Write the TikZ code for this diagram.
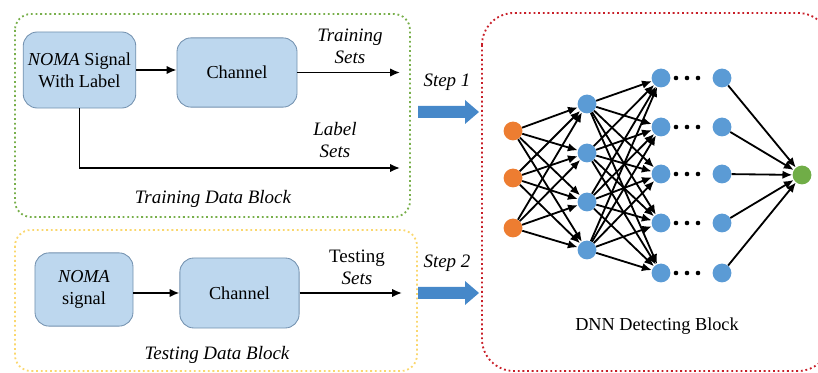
\documentclass[tikz,border=0pt]{standalone}
\usepackage{fontspec}
\setmainfont{Liberation Serif}
\usepackage{tikz}
\usetikzlibrary{arrows.meta}

\definecolor{boxfill}{RGB}{189,215,238}
\definecolor{boxline}{RGB}{115,145,175}
\definecolor{nodeblue}{RGB}{91,155,213}
\definecolor{inorange}{RGB}{237,125,49}
\definecolor{outgreen}{RGB}{112,173,71}
\definecolor{stepblue}{RGB}{70,136,201}
\definecolor{traingreen}{RGB}{120,175,75}
\definecolor{testyellow}{RGB}{250,215,110}
\definecolor{dnnred}{RGB}{200,30,40}

\tikzset{
	blk/.style={draw=boxline, fill=boxfill, rounded corners=0.35cm, align=center, line width=0.6pt, font=\fontsize{13}{15.5}\selectfont},
	lbl/.style={align=center, font=\fontsize{13.5}{15.6}\selectfont\itshape},
	neuron/.style={circle, minimum size=0.47cm, inner sep=0pt},
	link/.style={-{Latex[length=7pt,width=6pt]}, line width=1.3pt},
	frame/.style={dotted, line width=1.3pt}
}

\begin{document}
\begin{tikzpicture}[x=0.025cm, y=-0.025cm]
				\useasboundingbox (0,0) rectangle (818,373);
				\clip (0,0) rectangle (818,373);
				
				% Draw the three dotted blocks
				\draw[frame, traingreen, rounded corners=0.4cm] (15,14) rectangle (410,217);
				\draw[frame, testyellow, rounded corners=0.4cm] (15,230) rectangle (417,371);
				\draw[frame, dnnred, rounded corners=0.8cm] (482,13) rectangle (830,371);
				
				% Training data block
				\node[blk, minimum width=2.78cm, minimum height=1.9cm] (sig1) at (79.5,70) {\textit{NOMA} Signal\\With Label};
				\node[blk, minimum width=3cm, minimum height=1.73cm] (chan1) at (237,72.5) {Channel};
				\coordinate (trainout) at (400,72.5);
				\coordinate (labelout) at (400,168);
				\draw[link] (sig1.east) -- (sig1.east -| chan1.west);
				\draw[link] (chan1.east) -- (trainout);
				\draw[link] (sig1.south) |- (labelout);
				\node[lbl] (trainsets) at (350,46) {Training\\Sets};
				\node[lbl] (labelsets) at (335,140) {Label\\Sets};
				\node[lbl] (traintitle) at (213,199) {Training Data Block};
				
				% Testing data block
				\node[blk, minimum width=2.45cm, minimum height=1.83cm] (sig2) at (84,289.5) {\textit{NOMA}\\signal};
				\node[blk, minimum width=2.98cm, minimum height=1.75cm] (chan2) at (239.5,293) {Channel};
				\coordinate (testout) at (402,293);
				\draw[link] (sig2.east |- chan2.west) -- (chan2.west);
				\draw[link] (chan2.east) -- (testout);
				\node[lbl] (testsets) at (357,267) {\upshape Testing\\Sets};
				\node[lbl] (testtitle) at (217,355) {Testing Data Block};
				
				% Step arrows
				\node[lbl] (step1) at (447,82) {Step 1};
				\node[lbl] (step2) at (447,263) {Step 2};
				\foreach \y in {112,293}
					\fill[stepblue] (418,\y-6) -- (465,\y-6) -- (465,\y-12) -- (479,\y) -- (465,\y+12) -- (465,\y+6) -- (418,\y+6) -- cycle;
				
				% Draw the network
				\foreach \i/\y in {1/131,2/178,3/228}
					\node[neuron, fill=inorange] (a\i) at (513,\y) {};
				\foreach \i/\y in {1/104,2/153,3/202,4/250}
					\node[neuron, fill=nodeblue] (b\i) at (587,\y) {};
				\foreach \i/\y in {1/78,2/127,3/174,4/223,5/273} {
					\node[neuron, fill=nodeblue] (c\i) at (661,\y) {};
					\node[neuron, fill=nodeblue] (d\i) at (722,\y) {};
					\foreach \x in {676,687,698}
						\fill (\x,\y) circle (2.3);
				}
				\node[neuron, fill=outgreen] (out) at (802,175) {};
				
				\foreach \i in {1,...,3}
					\foreach \j in {1,...,4}
						\draw[link] (a\i) -- (b\j);
				\foreach \i in {1,...,4}
					\foreach \j in {1,...,5}
						\draw[link] (b\i) -- (c\j);
				\foreach \i in {1,...,5}
					\draw[link] (d\i) -- (out);
				
				\node[font=\fontsize{13}{15}\selectfont] (dnntitle) at (657,326) {DNN Detecting Block};
			\end{tikzpicture}
\end{document}
